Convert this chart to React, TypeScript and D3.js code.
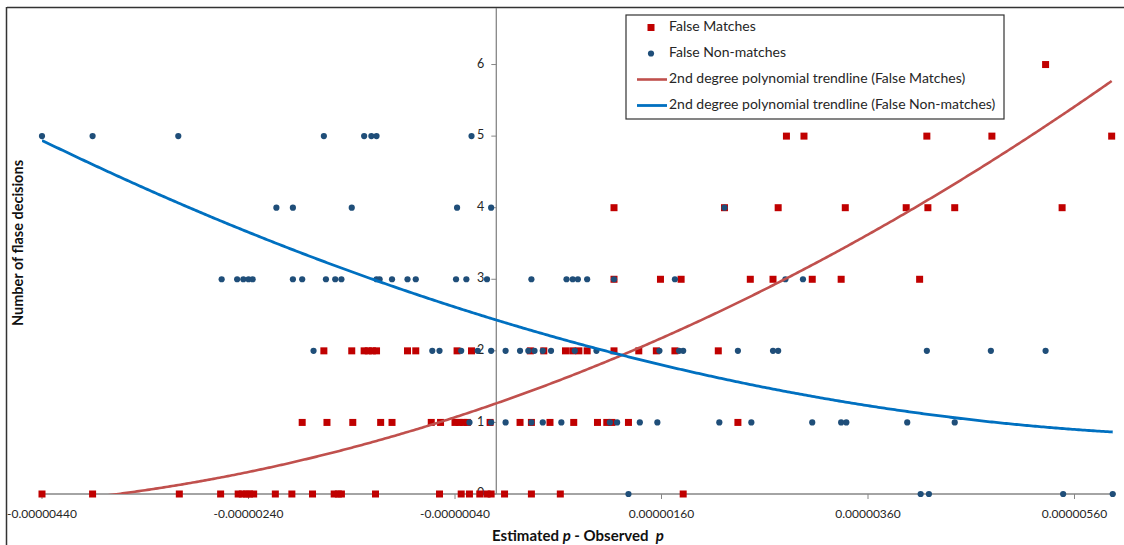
import React from "react";
import * as d3 from "d3";

// Offsets are stored in millionths (value × 1e-6).
const X_TICKS = [-4.4, -2.4, -0.4, 1.6, 3.6, 5.6];
const Y_TICKS = [0, 1, 2, 3, 4, 5, 6];
const X_MIN = -4.4;
const X_MAX = 6.0;
const Y_TOP = 6.79;

// False matches, one row of x offsets per number of false decisions (0..6).
const falseMatchRows: number[][] = [
  [-4.4, -3.91, -3.07, -2.67, -2.5, -2.46, -2.42, -2.39, -2.35, -2.14, -1.98, -1.78, -1.57, -1.53, -1.5, -1.17, -0.55, -0.34, -0.26, -0.16, -0.09, -0.05, 0.08, 0.34, 0.62, 1.81],
  [-1.88, -1.64, -1.39, -1.12, -1.01, -0.63, -0.54, -0.4, -0.36, -0.32, -0.28, -0.06, 0.23, 0.34, 0.52, 0.75, 0.98, 1.07, 1.12, 1.28, 2.34],
  [-1.67, -1.4, -1.28, -1.24, -1.2, -1.16, -0.86, -0.78, -0.38, -0.24, 0.33, 0.46, 0.67, 0.74, 0.8, 0.88, 1.14, 1.38, 1.55, 1.73, 2.15],
  [1.14, 1.59, 1.79, 2.46, 2.68, 3.06, 3.34, 4.1],
  [1.14, 2.21, 2.73, 3.38, 3.97, 4.18, 4.44, 5.48],
  [2.81, 2.98, 4.17, 4.8, 5.96],
  [5.32],
];

// False non-matches, same layout.
const falseNonMatchRows: number[][] = [
  [1.28, 4.11, 4.19, 5.49, 5.97],
  [-0.26, -0.05, 0.09, 0.34, 0.45, 0.63, 1.1, 1.17, 1.39, 1.56, 2.16, 2.47, 3.06, 3.34, 3.39, 3.98, 4.44],
  [-1.77, -0.62, -0.55, -0.34, -0.18, -0.05, 0.09, 0.23, 0.31, 0.37, 0.45, 0.53, 0.76, 0.97, 1.58, 1.77, 1.81, 2.34, 2.68, 2.73, 4.17, 4.79, 5.32],
  [-2.66, -2.51, -2.45, -2.4, -2.36, -1.97, -1.88, -1.65, -1.56, -1.5, -1.16, -1.13, -1.01, -0.86, -0.78, -0.39, -0.29, -0.09, 0.34, 0.68, 0.74, 0.79, 0.88, 1.14, 1.73, 2.8, 2.97],
  [-2.13, -1.97, -1.4, -0.38, -0.05, 2.21],
  [-4.4, -3.91, -3.08, -1.67, -1.28, -1.21, -1.16, -0.24],
  [],
];

// 2nd degree polynomial trendlines: [c, b, a] for y = c + b·x + a·x²
const matchTrendCoef = [1.2663, 0.5017, 0.0426];
const nonMatchTrendCoef = [2.4309, -0.4395, 0.02972];

const LEGEND_LABELS = [
  "False Matches",
  "False Non-matches",
  "2nd degree polynomial trendline (False Matches)",
  "2nd degree polynomial trendline (False Non-matches)",
];

const RED = "#C00000";
const BLUE = "#1F4E79";
const RED_LINE = "#C0504D";
const BLUE_LINE = "#0070C0";
const AXIS = "#868686";
const FONT = "Lato, 'Open Sans', sans-serif";

const W = 1124;
const H = 545;
const PLOT = { left: 42, right: 1115.8, top: 8, bottom: 494 };

function toPoints(rows: number[][]) {
  const pts: { x: number; y: number }[] = [];
  rows.forEach((row, count) => row.forEach((x) => pts.push({ x, y: count })));
  return pts;
}

function trend(coef: number[], pts: { x: number }[]) {
  const [lo, hi] = d3.extent(pts, (p) => p.x) as [number, number];
  const xs = d3.range(lo, hi, 0.02).concat([hi]);
  return xs.map((x) => ({ x, y: coef[0] + coef[1] * x + coef[2] * x * x }));
}

export default function App() {
  const x = d3.scaleLinear().domain([X_MIN, X_MAX]).range([PLOT.left, PLOT.right]);
  const y = d3.scaleLinear().domain([0, Y_TOP]).range([PLOT.bottom, PLOT.top]);

  const matches = toPoints(falseMatchRows);
  const nonMatches = toPoints(falseNonMatchRows);

  const line = d3
    .line<{ x: number; y: number }>()
    .x((d) => x(d.x))
    .y((d) => y(d.y));

  const matchTrend = trend(matchTrendCoef, matches);
  const nonMatchTrend = trend(nonMatchTrendCoef, nonMatches);

  const x0 = x(0);
  const sq = 7;
  const legendRows = [27.5, 53.5, 79.5, 105.5];

  return (
    <svg
      width={W}
      height={H}
      style={{ position: "absolute", left: 0, top: 0, display: "block", background: "#fff" }}
      fontFamily={FONT}
    >
      <defs>
        <clipPath id="plot-clip">
          <rect x={PLOT.left} y={PLOT.top} width={PLOT.right - PLOT.left} height={PLOT.bottom - PLOT.top} />
        </clipPath>
      </defs>

      {/* chart frame */}
      <line x1={7} x2={W} y1={7.5} y2={7.5} stroke="#333" strokeWidth={1.5} />
      <line x1={6.5} x2={6.5} y1={7} y2={H} stroke="#333" strokeWidth={1.5} />

      {/* x axis */}
      <line x1={PLOT.left} x2={PLOT.right} y1={y(0)} y2={y(0)} stroke={AXIS} strokeWidth={1.3} />
      {X_TICKS.map((t) => (
        <g key={t}>
          <line x1={x(t)} x2={x(t)} y1={y(0)} y2={y(0) + 5} stroke={AXIS} strokeWidth={1} />
          <text x={x(t)} y={515} textAnchor="middle" dominantBaseline="middle" fontSize={12} fill="#262626">
            {(t * 1e-6).toFixed(8)}
          </text>
        </g>
      ))}

      {/* y axis at x = 0 */}
      <line x1={x0} x2={x0} y1={PLOT.top} y2={PLOT.bottom} stroke={AXIS} strokeWidth={1.3} />
      {Y_TICKS.map((t) => (
        <g key={t}>
          <line x1={x0 - 5} x2={x0} y1={y(t)} y2={y(t)} stroke={AXIS} strokeWidth={1} />
          <text x={x0 - 12} y={y(t)} textAnchor="end" dominantBaseline="middle" fontSize={12.5} fill="#262626">
            {t}
          </text>
        </g>
      ))}

      {/* markers */}
      <g>
        {matches.map((p, i) => (
          <rect key={i} x={x(p.x) - sq / 2} y={y(p.y) - sq / 2} width={sq} height={sq} fill={RED} />
        ))}
      </g>
      <g>
        {nonMatches.map((p, i) => (
          <circle key={i} cx={x(p.x)} cy={y(p.y)} r={3.1} fill={BLUE} />
        ))}
      </g>

      {/* trendlines */}
      <g clipPath="url(#plot-clip)">
        <path d={line(matchTrend) || ""} fill="none" stroke={RED_LINE} strokeWidth={2.6} />
        <path d={line(nonMatchTrend) || ""} fill="none" stroke={BLUE_LINE} strokeWidth={2.8} />
      </g>

      {/* axis titles */}
      <text
        x={578}
        y={541}
        textAnchor="middle"
        fontSize={15}
        fontWeight="bold"
        fill="#111"
        style={{ whiteSpace: "pre" }}
      >
        {"Estimated "}
        <tspan fontStyle="italic">p</tspan>
        {" - Observed  "}
        <tspan fontStyle="italic">p</tspan>
      </text>
      <text
        transform="translate(19,243) rotate(-90)"
        textAnchor="middle"
        dominantBaseline="middle"
        fontSize={14.5}
        fontWeight="bold"
        fill="#111"
      >
        Number of flase decisions
      </text>

      {/* legend */}
      <g>
        <rect x={626} y={15} width={378} height={104} fill="#fff" stroke="#333" strokeWidth={1.2} />
        <rect x={651 - sq / 2} y={legendRows[0] - sq / 2} width={sq} height={sq} fill={RED} />
        <circle cx={651} cy={legendRows[1]} r={3.1} fill={BLUE} />
        <line x1={637} x2={667} y1={legendRows[2]} y2={legendRows[2]} stroke={RED_LINE} strokeWidth={2.6} />
        <line x1={637} x2={667} y1={legendRows[3]} y2={legendRows[3]} stroke={BLUE_LINE} strokeWidth={2.8} />
        {LEGEND_LABELS.map((label, i) => (
          <text key={label} x={669} y={legendRows[i]} dominantBaseline="middle" fontSize={14} fill="#262626">
            {label}
          </text>
        ))}
      </g>
    </svg>
  );
}
